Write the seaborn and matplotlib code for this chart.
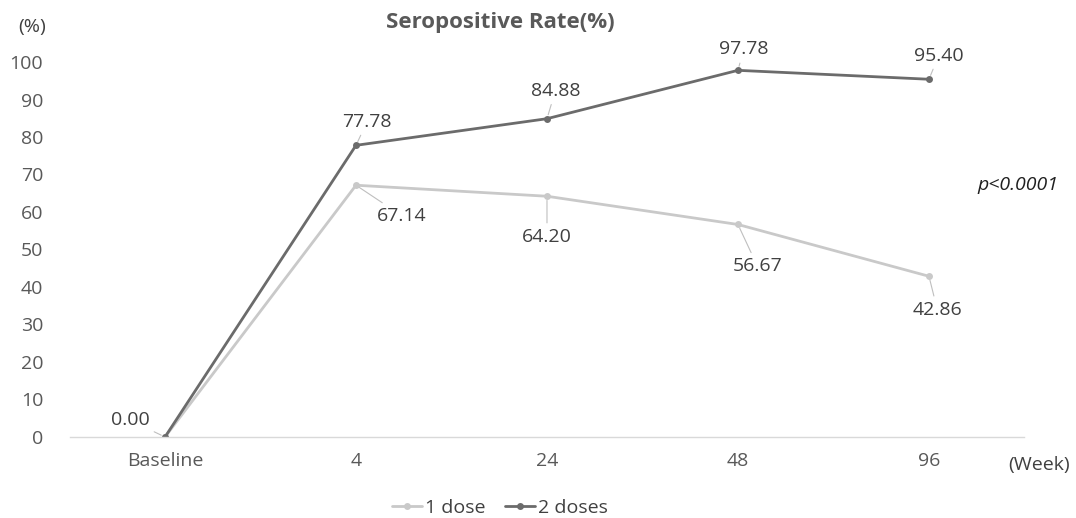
import pandas as pd
import matplotlib.pyplot as plt
import seaborn as sns

sns.set_style("white")
plt.rcParams['font.family'] = ['Open Sans', 'DejaVu Sans']

weeks = ["Baseline", "4", "24", "48", "96"]
one_dose = [0.00, 67.14, 64.20, 56.67, 42.86]
two_doses = [0.00, 77.78, 84.88, 97.78, 95.40]
series_names = ["1 dose", "2 doses"]

df = pd.DataFrame({
    "Week": weeks * 2,
    "Rate": one_dose + two_doses,
    "Group": [series_names[0]] * len(weeks) + [series_names[1]] * len(weeks),
})

fig = plt.figure(figsize=(10.76, 5.18), dpi=100)
ax = fig.add_axes([0.0646, 0.1564, 0.8875, 0.7239])

palette = {"1 dose": "#c9c9c9", "2 doses": "#6b6b6b"}
sns.lineplot(data=df, x="Week", y="Rate", hue="Group", palette=palette,
             marker="o", markersize=5, markeredgewidth=0, linewidth=2,
             sort=False, ax=ax, legend=True)

ax.set_xlim(-0.5, 4.5)
ax.set_ylim(0, 100)
ax.set_yticks(range(0, 101, 10))
ax.set_xlabel("")
ax.set_ylabel("")
for s in ["top", "right", "left"]:
    ax.spines[s].set_visible(False)
ax.spines["bottom"].set_color("#d9d9d9")
ax.spines["bottom"].set_linewidth(1)
ax.tick_params(axis="both", length=0, labelsize=14, colors="#595959")
ax.tick_params(axis="x", pad=11)
ax.tick_params(axis="y", pad=19)

# label offsets in points (layout only)
off_two = [(-25, 12), (8, 17), (6, 20), (4, 15), (7, 17)]
off_one = [None, (33, -22), (0, -29), (14, -30), (6, -24)]
lead = dict(arrowstyle="-", color="#bfbfbf", lw=0.8, shrinkA=1, shrinkB=3)
for i, w in enumerate(weeks):
    ax.annotate(f"{two_doses[i]:.2f}", (i, two_doses[i]), xytext=off_two[i],
                textcoords="offset points", ha="center", va="center",
                fontsize=14, color="#404040", arrowprops=lead)
    if off_one[i] is not None:
        ax.annotate(f"{one_dose[i]:.2f}", (i, one_dose[i]), xytext=off_one[i],
                    textcoords="offset points", ha="center", va="center",
                    fontsize=14, color="#404040", arrowprops=lead)

fig.text(0.465, 0.957, "Seropositive Rate(%)", ha="center", va="center",
         fontsize=16, fontweight="bold", color="#595959")
fig.text(0.03, 0.948, "(%)", ha="center", va="center", fontsize=14, color="#404040")
fig.text(0.966, 0.102, "(Week)", ha="center", va="center", fontsize=14, color="#404040")
fig.text(0.946, 0.643, "p<0.0001", ha="center", va="center", fontsize=14,
         style="italic", color="#202020")

ax.legend(loc="center", bbox_to_anchor=(0.465, 0.02), bbox_transform=fig.transFigure,
          ncol=2, frameon=False, fontsize=14, handlelength=1.5, handletextpad=0.2,
          columnspacing=1.0, labelcolor="#404040")

fig.savefig("out.png", dpi=100)
